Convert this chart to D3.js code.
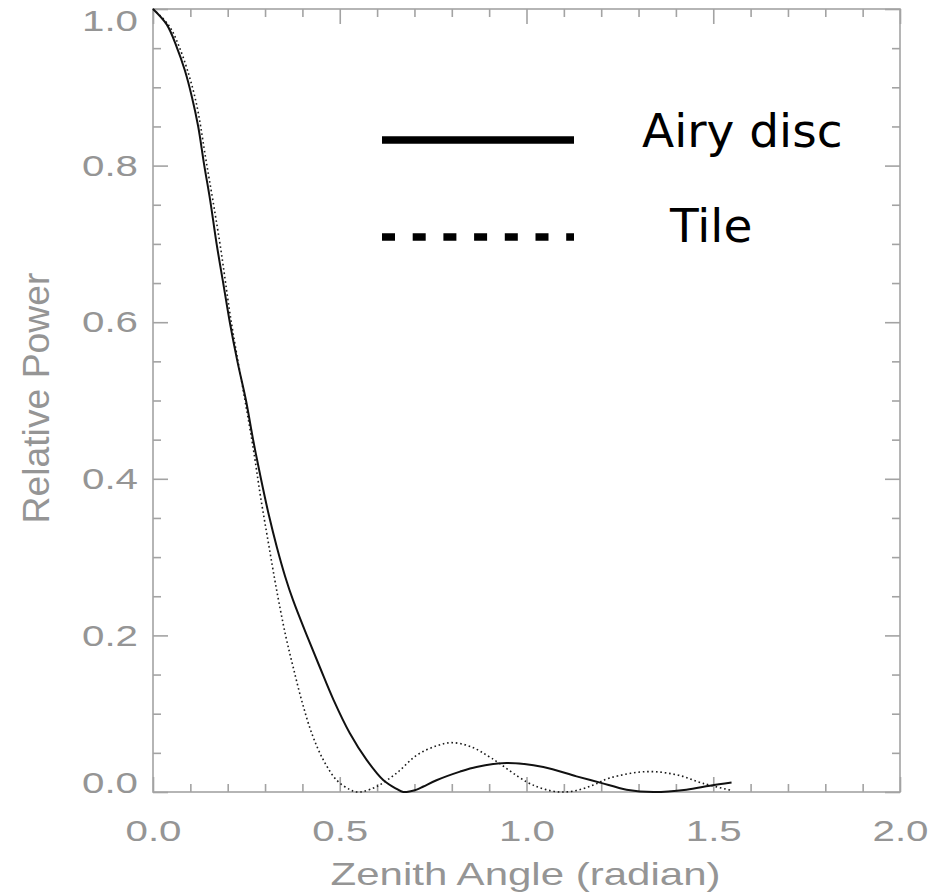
<!DOCTYPE html>
<html>
<head>
    <meta charset="utf-8" />
    <title>Relative Power vs Zenith Angle</title>
    <script src="https://cdn.jsdelivr.net/npm/d3@7/dist/d3.min.js" charset="utf-8"></script>
    <style>
        body { margin: 0; background: #fff; }
    </style>
</head>
<body>
</body>
<script charset="utf-8">

    // curve readings (zenith angle in radian, relative power)
    var airyAngle = [0.000, 0.037, 0.063, 0.085, 0.104, 0.121, 0.137, 0.153, 0.170, 0.188, 0.206, 0.226, 0.249, 0.268, 0.289,
                     0.310, 0.332, 0.354, 0.375, 0.411, 0.447, 0.483, 0.527, 0.572, 0.617, 0.652, 0.670, 0.690, 0.706, 0.724,
                     0.759, 0.822, 0.866, 0.947, 1.045, 1.134, 1.197, 1.268, 1.340, 1.428, 1.491, 1.549];
    var airyPower = [1.000, 0.980, 0.952, 0.922, 0.888, 0.850, 0.801, 0.756, 0.701, 0.650, 0.599, 0.550, 0.500, 0.450, 0.400,
                     0.354, 0.312, 0.275, 0.245, 0.201, 0.159, 0.118, 0.075, 0.041, 0.015, 0.004, 0.000, 0.001, 0.003, 0.007,
                     0.015, 0.026, 0.032, 0.037, 0.032, 0.020, 0.012, 0.003, 0.000, 0.003, 0.008, 0.012];

    var tileAngle = [0.000, 0.041, 0.070, 0.112, 0.144, 0.179, 0.210, 0.246, 0.269, 0.288, 0.309, 0.331, 0.355, 0.375, 0.398,
                     0.425, 0.456, 0.492, 0.527, 0.545, 0.565, 0.599, 0.652, 0.706, 0.760, 0.800, 0.850, 0.907, 1.000, 1.045,
                     1.090, 1.134, 1.179, 1.224, 1.320, 1.402, 1.473, 1.549];
    var tilePower = [1.000, 0.980, 0.952, 0.888, 0.801, 0.701, 0.599, 0.501, 0.437, 0.377, 0.318, 0.258, 0.200, 0.160, 0.117,
                     0.075, 0.041, 0.015, 0.003, 0.000, 0.001, 0.007, 0.024, 0.047, 0.059, 0.063, 0.058, 0.043, 0.013, 0.004,
                     0.000, 0.002, 0.009, 0.018, 0.026, 0.022, 0.011, 0.002];

    var xMajor = [0, 0.5, 1.0, 1.5, 2.0];
    var yMajor = [0, 0.2, 0.4, 0.6, 0.8, 1.0];
    var seriesNames = ['Airy disc', 'Tile'];

    var width = 946, height = 894;
    var plotL = 153, plotR = 900, plotT = 9, plotB = 792;
    var axisColor = '#a3a3a3', labelColor = '#959595';
    var labelFont = '"Liberation Sans", Arial, sans-serif';

    var svg = d3.select('body').append('svg').attr('width', width).attr('height', height);

    var xScale = d3.scaleLinear().domain([0, 2]).range([plotL, plotR]);
    var yScale = d3.scaleLinear().domain([0, 1]).range([plotB, plotT]);

    var xMinor = d3.range(0, 2.0001, 0.1).filter(function(v){ return Math.abs(v * 2 - Math.round(v * 2)) > 1e-6; });
    var yMinor = d3.range(0, 1.0001, 0.05).filter(function(v){ return Math.abs(v * 5 - Math.round(v * 5)) > 1e-6; });

    // axes: ticks point inward on all four sides
    function styleAxis(g) {
        g.select('.domain').remove();
        g.selectAll('line').attr('stroke', axisColor).attr('stroke-width', 1.6);
    }
    function frameAxis(make, scale, pos, values, size) {
        var ax = make(scale).tickValues(values).tickSize(-size).tickSizeOuter(0).tickFormat('');
        var g = svg.append('g').attr('transform', pos).call(ax);
        styleAxis(g);
        return g;
    }
    frameAxis(d3.axisBottom, xScale, 'translate(0,' + plotB + ')', xMinor, 8);
    frameAxis(d3.axisTop, xScale, 'translate(0,' + plotT + ')', xMinor, 8);
    frameAxis(d3.axisTop, xScale, 'translate(0,' + plotT + ')', xMajor, 15);
    frameAxis(d3.axisLeft, yScale, 'translate(' + plotL + ',0)', yMinor, 8);
    frameAxis(d3.axisRight, yScale, 'translate(' + plotR + ',0)', yMinor, 8);
    frameAxis(d3.axisRight, yScale, 'translate(' + plotR + ',0)', yMajor, 15);

    var xAxis = d3.axisBottom(xScale).tickValues(xMajor).tickSize(-15).tickSizeOuter(0).tickPadding(28).tickFormat(d3.format('.1f'));
    var gx = svg.append('g').attr('transform', 'translate(0,' + plotB + ')').call(xAxis);
    styleAxis(gx);
    gx.selectAll('text').attr('fill', labelColor).style('font-family', labelFont).style('font-size', '30px')
        .attr('textLength', 56).attr('lengthAdjust', 'spacingAndGlyphs');

    var yAxis = d3.axisLeft(yScale).tickValues(yMajor).tickSize(-15).tickSizeOuter(0).tickPadding(15).tickFormat(d3.format('.1f'));
    var gy = svg.append('g').attr('transform', 'translate(' + plotL + ',0)').call(yAxis);
    styleAxis(gy);
    gy.selectAll('text').attr('fill', labelColor).style('font-family', labelFont).style('font-size', '30px')
        .attr('textLength', 56).attr('lengthAdjust', 'spacingAndGlyphs')
        .attr('y', function(d){ return d === 1 ? 12 : (d === 0 ? -9 : 0); });

    // frame lines
    svg.append('rect').attr('x', plotL).attr('y', plotT).attr('width', plotR - plotL).attr('height', plotB - plotT)
        .attr('fill', 'none').attr('stroke', axisColor).attr('stroke-width', 1.6);

    // axis titles
    svg.append('text').text('Zenith Angle (radian)')
        .attr('x', (plotL + plotR) / 2 - 1).attr('y', 885).attr('text-anchor', 'middle')
        .attr('textLength', 390).attr('lengthAdjust', 'spacingAndGlyphs')
        .attr('fill', labelColor).style('font-family', labelFont).style('font-size', '32px');
    svg.append('text').text('Relative Power')
        .attr('transform', 'translate(49,398) rotate(-90)').attr('text-anchor', 'middle')
        .attr('textLength', 251).attr('lengthAdjust', 'spacingAndGlyphs')
        .attr('fill', labelColor).style('font-family', labelFont).style('font-size', '37px');

    // curves
    var line = d3.line()
        .x(function(d){ return xScale(d[0]); })
        .y(function(d){ return yScale(d[1]); })
        .curve(d3.curveCatmullRom.alpha(0.5));

    var airy = d3.zip(airyAngle, airyPower);
    var tile = d3.zip(tileAngle, tilePower);

    svg.append('path').attr('d', line(tile)).attr('fill', 'none')
        .attr('stroke', '#1a1a1a').attr('stroke-width', 1.6).attr('stroke-dasharray', '1.6,2.8');
    svg.append('path').attr('d', line(airy)).attr('fill', 'none')
        .attr('stroke', '#111').attr('stroke-width', 2);

    // legend
    var legend = svg.append('g');
    legend.append('line').attr('x1', 382).attr('x2', 574).attr('y1', 140).attr('y2', 140)
        .attr('stroke', '#000').attr('stroke-width', 7.5);
    legend.append('line').attr('x1', 382).attr('x2', 574).attr('y1', 237).attr('y2', 237)
        .attr('stroke', '#000').attr('stroke-width', 7.5).attr('stroke-dasharray', '13,17.7');
    legend.selectAll('text.leg').data(seriesNames).enter().append('text')
        .text(function(d){ return d; })
        .attr('x', function(d,i){ return i === 0 ? 642 : 670; })
        .attr('y', function(d,i){ return i === 0 ? 147 : 242; })
        .attr('fill', '#000').style('font-family', '"DejaVu Sans", sans-serif').style('font-size', '47px');

</script>
</html>
